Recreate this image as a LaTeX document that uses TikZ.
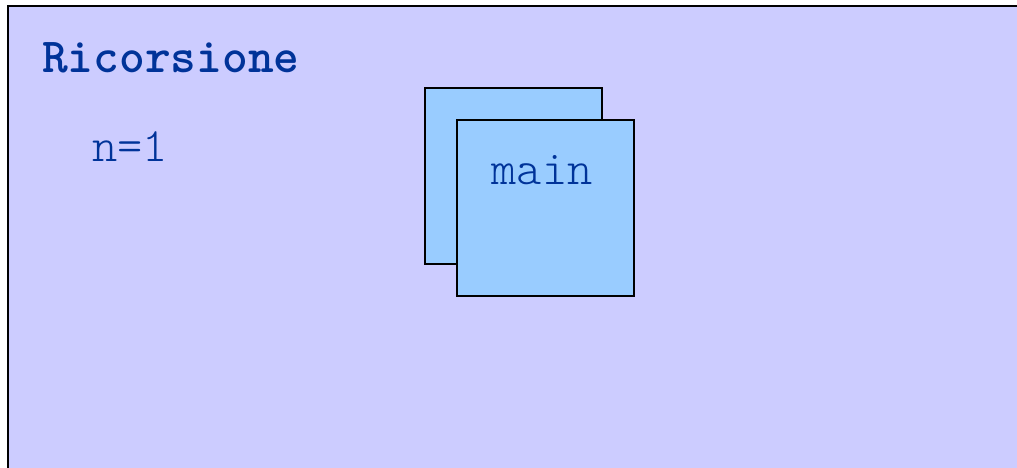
\documentclass[tikz,border=0pt]{standalone}
\usepackage{fontspec}
\setmonofont{Latin Modern Mono Light}
\definecolor{panelbg}{RGB}{204,204,255}
\definecolor{boxfill}{RGB}{153,204,255}
\definecolor{txtblue}{RGB}{0,51,153}
\begin{document}
\begin{tikzpicture}[x=1pt,y=-1pt,
  panel/.style={draw=black,line width=2pt,fill=panelbg},
  frame/.style={draw=black,line width=1.6pt,fill=boxfill,minimum width=177pt,minimum height=176pt,inner sep=0pt,anchor=north west},
  txt/.style={text=txtblue,font=\fontsize{48}{54}\selectfont\ttfamily,inner sep=0pt,anchor=base west}]
\useasboundingbox (0,0) rectangle (1017,468);
\clip (0,0) rectangle (1017,468);
\path[panel] (8,6) rectangle (1040,490);
\node[txt,font=\fontsize{49}{54}\selectfont\ttfamily\bfseries] (title) at (42,72.5) {Ricorsione};
\node[txt] (n) at (92,161.5) {n=1};
\node[frame] (back) at (424,87) {};
\node[frame] (front) at (456,119) {};
\node[txt,anchor=base] (mainlbl) at (542,184) {main};
\end{tikzpicture}
\end{document}
